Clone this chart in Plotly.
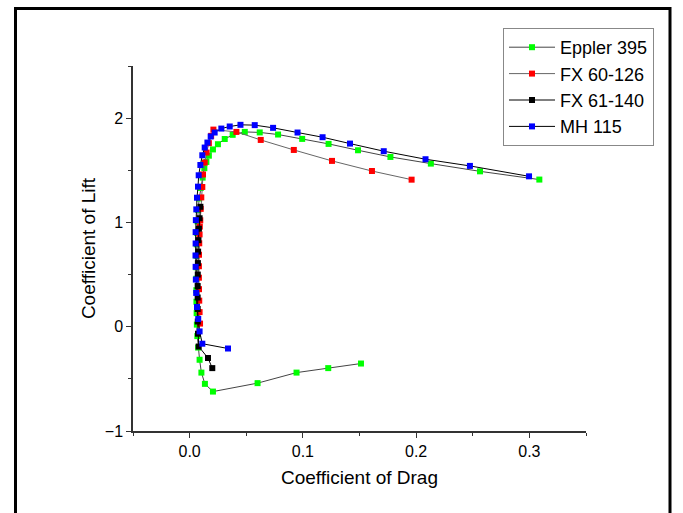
import plotly.graph_objects as go

# ---- data ----
eppler_cd = [0.1513, 0.1224, 0.0944, 0.0600, 0.0206, 0.0135, 0.0104, 0.0088,
             0.0075, 0.0068, 0.0064, 0.0062, 0.0060, 0.0059, 0.0059, 0.0060,
             0.0061, 0.0063, 0.0066, 0.0070, 0.0075, 0.0085, 0.0098, 0.0115,
             0.0130, 0.0148, 0.0170, 0.0206, 0.0250, 0.0310, 0.0380, 0.0487,
             0.0619, 0.0781, 0.0994, 0.1227, 0.1487, 0.1773, 0.2130, 0.2564, 0.3088]
eppler_cl = [-0.353, -0.397, -0.440, -0.541, -0.622, -0.548, -0.440, -0.317,
             -0.200, -0.090, 0.020, 0.130, 0.240, 0.350, 0.460, 0.570,
             0.680, 0.790, 0.900, 1.010, 1.120, 1.230, 1.330, 1.430,
             1.520, 1.580, 1.640, 1.700, 1.750, 1.800, 1.840, 1.868,
             1.863, 1.843, 1.801, 1.753, 1.692, 1.628, 1.564, 1.490, 1.411]

fx60_cd = [0.0092, 0.0088, 0.0085, 0.0083, 0.0082, 0.0082, 0.0083, 0.0085,
           0.0088, 0.0090, 0.0094, 0.0098, 0.0103, 0.0112, 0.0118, 0.0133,
           0.0150, 0.0170, 0.0190, 0.0210, 0.0413, 0.0628, 0.0920, 0.1257,
           0.1610, 0.1960]
fx60_cl = [0.030, 0.140, 0.250, 0.360, 0.470, 0.580, 0.690, 0.800,
           0.885, 0.960, 1.020, 1.130, 1.240, 1.340, 1.460, 1.574,
           1.670, 1.760, 1.830, 1.890, 1.868, 1.791, 1.695, 1.590,
           1.493, 1.410]

fx61_cd = [0.0200, 0.0162, 0.0080, 0.0074, 0.0072, 0.0071, 0.0071, 0.0071,
           0.0072, 0.0073, 0.0075, 0.0078, 0.0082, 0.0088, 0.0095]
fx61_cl = [-0.397, -0.300, -0.190, -0.067, 0.050, 0.170, 0.280, 0.390,
           0.500, 0.610, 0.720, 0.830, 0.940, 1.040, 1.150]

mh_cd = [0.0339, 0.0112, 0.0088, 0.0076, 0.0065, 0.0058, 0.0055, 0.0053,
         0.0052, 0.0053, 0.0053, 0.0055, 0.0059, 0.0065, 0.0074, 0.0080,
         0.0095, 0.0112, 0.0133, 0.0157, 0.0186, 0.0221, 0.0280, 0.0354,
         0.0449, 0.0575, 0.0737, 0.0953, 0.1174, 0.1416, 0.1714, 0.2083,
         0.2475, 0.2997]
mh_cl = [-0.209, -0.163, -0.045, 0.074, 0.189, 0.324, 0.452, 0.574,
         0.683, 0.798, 0.907, 1.022, 1.125, 1.237, 1.343, 1.452,
         1.551, 1.644, 1.718, 1.766, 1.824, 1.862, 1.900, 1.920,
         1.936, 1.933, 1.907, 1.862, 1.817, 1.756, 1.683, 1.606,
         1.542, 1.442]

names = ["Eppler 395", "FX 60-126", "FX 61-140", "MH 115"]

x_ticks = [0.0, 0.1, 0.2, 0.3]
y_ticks = [-1, 0, 1, 2]

# ---- styling ----
series = [
    (eppler_cd, eppler_cl, "#00ff00", "#444444"),
    (fx60_cd, fx60_cl, "#ff0000", "#666666"),
    (fx61_cd, fx61_cl, "#000000", "#000000"),
    (mh_cd, mh_cl, "#0000ff", "#000000"),
]

fig = go.Figure()
for (cd, cl, mc, lc), nm in zip(series, names):
    fig.add_trace(go.Scatter(
        x=cd, y=cl, name=nm, mode="lines+markers",
        line=dict(color=lc, width=1),
        marker=dict(symbol="square", size=6, color=mc, line=dict(width=0)),
    ))

# plot area in pixels: x 133..586, y 66..431
L, R, T, B = 133, 586, 66, 431
W, H = 683, 513
def px(x):
    return (x - L) / (R - L)
def py(y):
    return (B - y) / (B - T)

font = "Arial, Liberation Sans, sans-serif"
axis_common = dict(
    showline=True, linecolor="#333333", linewidth=1.5, mirror=False,
    ticks="outside", ticklen=5, tickwidth=1.2, tickcolor="#333333",
    showgrid=False, zeroline=False,
    tickfont=dict(family=font, size=16, color="#000000"),
)

fig.update_layout(
    width=W, height=H,
    margin=dict(l=L, r=W - R, t=T, b=H - B, pad=0),
    paper_bgcolor="white", plot_bgcolor="white",
    font=dict(family=font, color="#000000"),
    xaxis=dict(
        range=[-0.05, 0.35], tickvals=x_ticks,
        ticktext=[f"{v:.1f}" for v in x_ticks],
        title=dict(text="Coefficient of Drag", font=dict(family=font, size=19), standoff=12),
        minor=dict(dtick=0.05, tick0=0, ticks="outside", ticklen=3, tickcolor="#333333", showgrid=False),
        **axis_common,
    ),
    yaxis=dict(
        range=[-1, 2.5], tickvals=y_ticks,
        ticktext=["\u22121", "0", "1", "2"],
        title=dict(text="Coefficient of Lift", font=dict(family=font, size=19), standoff=4),
        minor=dict(dtick=0.5, tick0=0, ticks="outside", ticklen=3, tickcolor="#333333", showgrid=False),
        **axis_common,
    ),
    legend=dict(
        x=px(503), y=py(28), xanchor="left", yanchor="top",
        bordercolor="#888888", borderwidth=1, bgcolor="white",
        font=dict(family=font, size=18), itemwidth=46,
        tracegroupgap=0,
    ),
    shapes=[dict(
        type="rect", xref="paper", yref="paper",
        x0=px(15.5), x1=px(670), y0=py(8.5), y1=py(530),
        line=dict(color="black", width=3), fillcolor="rgba(0,0,0,0)",
        layer="below",
    )],
)

fig.write_html("out.html")
